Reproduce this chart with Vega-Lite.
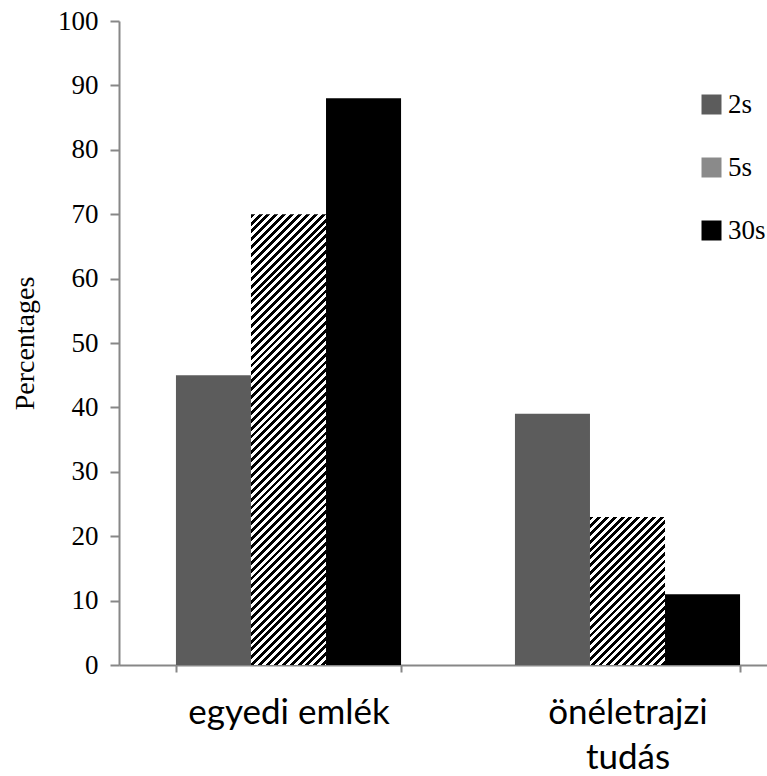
{
"$schema": "https://vega.github.io/schema/vega-lite/v6.json",
"width": 648,
"height": 644,
"autosize": {"type": "none"},
"padding": {"left": 119, "top": 21, "right": 0, "bottom": 111},
"background": "white",
"config": {"view": {"stroke": null}, "legend": {"labelFont": "Liberation Serif", "labelFontSize": 27, "labelColor": "#000"}},
"data": {"values": [
{"cat": "egyedi emlék", "series": "2s", "value": 45},
{"cat": "egyedi emlék", "series": "5s", "value": 70},
{"cat": "egyedi emlék", "series": "30s", "value": 88},
{"cat": "önéletrajzi tudás", "series": "2s", "value": 39},
{"cat": "önéletrajzi tudás", "series": "5s", "value": 23},
{"cat": "önéletrajzi tudás", "series": "30s", "value": 11}
]},
"mark": {"type": "bar", "strokeWidth": 0},
"encoding": {
"x": {"field": "cat", "type": "nominal", "sort": ["egyedi emlék", "önéletrajzi tudás"],
 "scale": {"range": [0, 678], "paddingInner": 0.336, "paddingOuter": 0.168},
 "axis": {"title": null, "labelAngle": 0, "tickBand": "extent", "domainColor": "#878787", "domainWidth": 2, "tickColor": "#878787", "tickWidth": 2, "tickSize": 7, "labelFont": "Lato", "labelFontSize": 35, "labelColor": "#000", "labelPadding": 51, "labelBaseline": "alphabetic", "labelLineHeight": 45, "labelLimit": 0, "labelOverlap": false, "labelExpr": "datum.label == 'önéletrajzi tudás' ? ['önéletrajzi', 'tudás'] : datum.label"}},
"xOffset": {"field": "series", "type": "nominal", "sort": ["2s", "5s", "30s"], "scale": {"paddingInner": 0, "paddingOuter": 0}},
"y": {"field": "value", "type": "quantitative", "scale": {"domain": [0, 100], "nice": false},
 "axis": {"title": "Percentages", "values": [0, 10, 20, 30, 40, 50, 60, 70, 80, 90, 100], "grid": false, "domainColor": "#878787", "domainWidth": 2, "tickColor": "#878787", "tickWidth": 2, "tickSize": 9, "labelFont": "Liberation Serif", "labelFontSize": 27, "labelColor": "#000", "labelPadding": 12, "labelFlush": false, "labelBound": false, "titleFont": "Liberation Serif", "titleFontSize": 28, "titleFontWeight": "normal", "titleColor": "#000", "titlePadding": 18}},
"fill": {"field": "series", "type": "nominal",
 "scale": {"domain": ["2s", "5s", "30s"], "range": ["#5c5c5c", "#8a8a8a", "#000000"]},
 "legend": {"title": null, "orient": "none", "legendX": 579, "legendY": 70, "symbolType": "square", "symbolSize": 400, "symbolStrokeWidth": 0, "labelFont": "Liberation Serif", "labelFontSize": 27, "labelColor": "#000", "labelOffset": 3, "rowPadding": 35, "padding": 0},
 "condition": [
 {"test": "datum.series === '5s' && datum.cat === 'egyedi emlék'", "value": {"gradient": "linear", "x1": 0, "y1": 0, "x2": 0.1889, "y2": 1.135, "stops": [
{"offset":0,"color":"#000"},
{"offset":0.0075,"color":"#000"},{"offset":0.0075,"color":"#fff"},{"offset":0.015,"color":"#fff"},{"offset":0.015,"color":"#000"},
{"offset":0.0225,"color":"#000"},{"offset":0.0225,"color":"#fff"},{"offset":0.03,"color":"#fff"},{"offset":0.03,"color":"#000"},
{"offset":0.0375,"color":"#000"},{"offset":0.0375,"color":"#fff"},{"offset":0.045,"color":"#fff"},{"offset":0.045,"color":"#000"},
{"offset":0.0525,"color":"#000"},{"offset":0.0525,"color":"#fff"},{"offset":0.06,"color":"#fff"},{"offset":0.06,"color":"#000"},
{"offset":0.0675,"color":"#000"},{"offset":0.0675,"color":"#fff"},{"offset":0.075,"color":"#fff"},{"offset":0.075,"color":"#000"},
{"offset":0.0825,"color":"#000"},{"offset":0.0825,"color":"#fff"},{"offset":0.09,"color":"#fff"},{"offset":0.09,"color":"#000"},
{"offset":0.0975,"color":"#000"},{"offset":0.0975,"color":"#fff"},{"offset":0.105,"color":"#fff"},{"offset":0.105,"color":"#000"},
{"offset":0.1125,"color":"#000"},{"offset":0.1125,"color":"#fff"},{"offset":0.12,"color":"#fff"},{"offset":0.12,"color":"#000"},
{"offset":0.1275,"color":"#000"},{"offset":0.1275,"color":"#fff"},{"offset":0.135,"color":"#fff"},{"offset":0.135,"color":"#000"},
{"offset":0.1425,"color":"#000"},{"offset":0.1425,"color":"#fff"},{"offset":0.15,"color":"#fff"},{"offset":0.15,"color":"#000"},
{"offset":0.1575,"color":"#000"},{"offset":0.1575,"color":"#fff"},{"offset":0.165,"color":"#fff"},{"offset":0.165,"color":"#000"},
{"offset":0.1725,"color":"#000"},{"offset":0.1725,"color":"#fff"},{"offset":0.18,"color":"#fff"},{"offset":0.18,"color":"#000"},
{"offset":0.1875,"color":"#000"},{"offset":0.1875,"color":"#fff"},{"offset":0.195,"color":"#fff"},{"offset":0.195,"color":"#000"},
{"offset":0.2025,"color":"#000"},{"offset":0.2025,"color":"#fff"},{"offset":0.21,"color":"#fff"},{"offset":0.21,"color":"#000"},
{"offset":0.2175,"color":"#000"},{"offset":0.2175,"color":"#fff"},{"offset":0.225,"color":"#fff"},{"offset":0.225,"color":"#000"},
{"offset":0.2325,"color":"#000"},{"offset":0.2325,"color":"#fff"},{"offset":0.24,"color":"#fff"},{"offset":0.24,"color":"#000"},
{"offset":0.2475,"color":"#000"},{"offset":0.2475,"color":"#fff"},{"offset":0.255,"color":"#fff"},{"offset":0.255,"color":"#000"},
{"offset":0.2625,"color":"#000"},{"offset":0.2625,"color":"#fff"},{"offset":0.27,"color":"#fff"},{"offset":0.27,"color":"#000"},
{"offset":0.2775,"color":"#000"},{"offset":0.2775,"color":"#fff"},{"offset":0.285,"color":"#fff"},{"offset":0.285,"color":"#000"},
{"offset":0.2925,"color":"#000"},{"offset":0.2925,"color":"#fff"},{"offset":0.3,"color":"#fff"},{"offset":0.3,"color":"#000"},
{"offset":0.3075,"color":"#000"},{"offset":0.3075,"color":"#fff"},{"offset":0.315,"color":"#fff"},{"offset":0.315,"color":"#000"},
{"offset":0.3225,"color":"#000"},{"offset":0.3225,"color":"#fff"},{"offset":0.33,"color":"#fff"},{"offset":0.33,"color":"#000"},
{"offset":0.3375,"color":"#000"},{"offset":0.3375,"color":"#fff"},{"offset":0.345,"color":"#fff"},{"offset":0.345,"color":"#000"},
{"offset":0.3525,"color":"#000"},{"offset":0.3525,"color":"#fff"},{"offset":0.36,"color":"#fff"},{"offset":0.36,"color":"#000"},
{"offset":0.3675,"color":"#000"},{"offset":0.3675,"color":"#fff"},{"offset":0.375,"color":"#fff"},{"offset":0.375,"color":"#000"},
{"offset":0.3825,"color":"#000"},{"offset":0.3825,"color":"#fff"},{"offset":0.39,"color":"#fff"},{"offset":0.39,"color":"#000"},
{"offset":0.3975,"color":"#000"},{"offset":0.3975,"color":"#fff"},{"offset":0.405,"color":"#fff"},{"offset":0.405,"color":"#000"},
{"offset":0.4125,"color":"#000"},{"offset":0.4125,"color":"#fff"},{"offset":0.42,"color":"#fff"},{"offset":0.42,"color":"#000"},
{"offset":0.4275,"color":"#000"},{"offset":0.4275,"color":"#fff"},{"offset":0.435,"color":"#fff"},{"offset":0.435,"color":"#000"},
{"offset":0.4425,"color":"#000"},{"offset":0.4425,"color":"#fff"},{"offset":0.45,"color":"#fff"},{"offset":0.45,"color":"#000"},
{"offset":0.4575,"color":"#000"},{"offset":0.4575,"color":"#fff"},{"offset":0.465,"color":"#fff"},{"offset":0.465,"color":"#000"},
{"offset":0.4725,"color":"#000"},{"offset":0.4725,"color":"#fff"},{"offset":0.48,"color":"#fff"},{"offset":0.48,"color":"#000"},
{"offset":0.4875,"color":"#000"},{"offset":0.4875,"color":"#fff"},{"offset":0.495,"color":"#fff"},{"offset":0.495,"color":"#000"},
{"offset":0.5025,"color":"#000"},{"offset":0.5025,"color":"#fff"},{"offset":0.51,"color":"#fff"},{"offset":0.51,"color":"#000"},
{"offset":0.5175,"color":"#000"},{"offset":0.5175,"color":"#fff"},{"offset":0.525,"color":"#fff"},{"offset":0.525,"color":"#000"},
{"offset":0.5325,"color":"#000"},{"offset":0.5325,"color":"#fff"},{"offset":0.54,"color":"#fff"},{"offset":0.54,"color":"#000"},
{"offset":0.5475,"color":"#000"},{"offset":0.5475,"color":"#fff"},{"offset":0.555,"color":"#fff"},{"offset":0.555,"color":"#000"},
{"offset":0.5625,"color":"#000"},{"offset":0.5625,"color":"#fff"},{"offset":0.57,"color":"#fff"},{"offset":0.57,"color":"#000"},
{"offset":0.5775,"color":"#000"},{"offset":0.5775,"color":"#fff"},{"offset":0.585,"color":"#fff"},{"offset":0.585,"color":"#000"},
{"offset":0.5925,"color":"#000"},{"offset":0.5925,"color":"#fff"},{"offset":0.6,"color":"#fff"},{"offset":0.6,"color":"#000"},
{"offset":0.6075,"color":"#000"},{"offset":0.6075,"color":"#fff"},{"offset":0.615,"color":"#fff"},{"offset":0.615,"color":"#000"},
{"offset":0.6225,"color":"#000"},{"offset":0.6225,"color":"#fff"},{"offset":0.63,"color":"#fff"},{"offset":0.63,"color":"#000"},
{"offset":0.6375,"color":"#000"},{"offset":0.6375,"color":"#fff"},{"offset":0.645,"color":"#fff"},{"offset":0.645,"color":"#000"},
{"offset":0.6525,"color":"#000"},{"offset":0.6525,"color":"#fff"},{"offset":0.66,"color":"#fff"},{"offset":0.66,"color":"#000"},
{"offset":0.6675,"color":"#000"},{"offset":0.6675,"color":"#fff"},{"offset":0.675,"color":"#fff"},{"offset":0.675,"color":"#000"},
{"offset":0.6825,"color":"#000"},{"offset":0.6825,"color":"#fff"},{"offset":0.69,"color":"#fff"},{"offset":0.69,"color":"#000"},
{"offset":0.6975,"color":"#000"},{"offset":0.6975,"color":"#fff"},{"offset":0.705,"color":"#fff"},{"offset":0.705,"color":"#000"},
{"offset":0.7125,"color":"#000"},{"offset":0.7125,"color":"#fff"},{"offset":0.72,"color":"#fff"},{"offset":0.72,"color":"#000"},
{"offset":0.7275,"color":"#000"},{"offset":0.7275,"color":"#fff"},{"offset":0.735,"color":"#fff"},{"offset":0.735,"color":"#000"},
{"offset":0.7425,"color":"#000"},{"offset":0.7425,"color":"#fff"},{"offset":0.75,"color":"#fff"},{"offset":0.75,"color":"#000"},
{"offset":0.7575,"color":"#000"},{"offset":0.7575,"color":"#fff"},{"offset":0.765,"color":"#fff"},{"offset":0.765,"color":"#000"},
{"offset":0.7725,"color":"#000"},{"offset":0.7725,"color":"#fff"},{"offset":0.78,"color":"#fff"},{"offset":0.78,"color":"#000"},
{"offset":0.7875,"color":"#000"},{"offset":0.7875,"color":"#fff"},{"offset":0.795,"color":"#fff"},{"offset":0.795,"color":"#000"},
{"offset":0.8025,"color":"#000"},{"offset":0.8025,"color":"#fff"},{"offset":0.81,"color":"#fff"},{"offset":0.81,"color":"#000"},
{"offset":0.8175,"color":"#000"},{"offset":0.8175,"color":"#fff"},{"offset":0.825,"color":"#fff"},{"offset":0.825,"color":"#000"},
{"offset":0.8325,"color":"#000"},{"offset":0.8325,"color":"#fff"},{"offset":0.84,"color":"#fff"},{"offset":0.84,"color":"#000"},
{"offset":0.8475,"color":"#000"},{"offset":0.8475,"color":"#fff"},{"offset":0.855,"color":"#fff"},{"offset":0.855,"color":"#000"},
{"offset":0.8625,"color":"#000"},{"offset":0.8625,"color":"#fff"},{"offset":0.87,"color":"#fff"},{"offset":0.87,"color":"#000"},
{"offset":0.8775,"color":"#000"},{"offset":0.8775,"color":"#fff"},{"offset":0.885,"color":"#fff"},{"offset":0.885,"color":"#000"},
{"offset":0.8925,"color":"#000"},{"offset":0.8925,"color":"#fff"},{"offset":0.9,"color":"#fff"},{"offset":0.9,"color":"#000"},
{"offset":0.9075,"color":"#000"},{"offset":0.9075,"color":"#fff"},{"offset":0.915,"color":"#fff"},{"offset":0.915,"color":"#000"},
{"offset":0.9225,"color":"#000"},{"offset":0.9225,"color":"#fff"},{"offset":0.93,"color":"#fff"},{"offset":0.93,"color":"#000"},
{"offset":0.9375,"color":"#000"},{"offset":0.9375,"color":"#fff"},{"offset":0.945,"color":"#fff"},{"offset":0.945,"color":"#000"},
{"offset":0.9525,"color":"#000"},{"offset":0.9525,"color":"#fff"},{"offset":0.96,"color":"#fff"},{"offset":0.96,"color":"#000"},
{"offset":0.9675,"color":"#000"},{"offset":0.9675,"color":"#fff"},{"offset":0.975,"color":"#fff"},{"offset":0.975,"color":"#000"},
{"offset":0.9825,"color":"#000"},{"offset":0.9825,"color":"#fff"},{"offset":0.99,"color":"#fff"},{"offset":0.99,"color":"#000"},
{"offset":0.9975,"color":"#000"},{"offset":0.9975,"color":"#fff"},
{"offset":1,"color":"#fff"}
 ]}},
 {"test": "datum.series === '5s' && datum.cat === 'önéletrajzi tudás'", "value": {"gradient": "linear", "x1": 0, "y1": 0, "x2": 0.6073, "y2": 1.1989, "stops": [
{"offset":0,"color":"#000"},
{"offset":0.0175,"color":"#000"},{"offset":0.0175,"color":"#fff"},{"offset":0.035,"color":"#fff"},{"offset":0.035,"color":"#000"},
{"offset":0.0525,"color":"#000"},{"offset":0.0525,"color":"#fff"},{"offset":0.07,"color":"#fff"},{"offset":0.07,"color":"#000"},
{"offset":0.0875,"color":"#000"},{"offset":0.0875,"color":"#fff"},{"offset":0.105,"color":"#fff"},{"offset":0.105,"color":"#000"},
{"offset":0.1225,"color":"#000"},{"offset":0.1225,"color":"#fff"},{"offset":0.14,"color":"#fff"},{"offset":0.14,"color":"#000"},
{"offset":0.1575,"color":"#000"},{"offset":0.1575,"color":"#fff"},{"offset":0.175,"color":"#fff"},{"offset":0.175,"color":"#000"},
{"offset":0.1925,"color":"#000"},{"offset":0.1925,"color":"#fff"},{"offset":0.21,"color":"#fff"},{"offset":0.21,"color":"#000"},
{"offset":0.2275,"color":"#000"},{"offset":0.2275,"color":"#fff"},{"offset":0.245,"color":"#fff"},{"offset":0.245,"color":"#000"},
{"offset":0.2625,"color":"#000"},{"offset":0.2625,"color":"#fff"},{"offset":0.28,"color":"#fff"},{"offset":0.28,"color":"#000"},
{"offset":0.2975,"color":"#000"},{"offset":0.2975,"color":"#fff"},{"offset":0.315,"color":"#fff"},{"offset":0.315,"color":"#000"},
{"offset":0.3325,"color":"#000"},{"offset":0.3325,"color":"#fff"},{"offset":0.35,"color":"#fff"},{"offset":0.35,"color":"#000"},
{"offset":0.3675,"color":"#000"},{"offset":0.3675,"color":"#fff"},{"offset":0.385,"color":"#fff"},{"offset":0.385,"color":"#000"},
{"offset":0.4025,"color":"#000"},{"offset":0.4025,"color":"#fff"},{"offset":0.42,"color":"#fff"},{"offset":0.42,"color":"#000"},
{"offset":0.4375,"color":"#000"},{"offset":0.4375,"color":"#fff"},{"offset":0.455,"color":"#fff"},{"offset":0.455,"color":"#000"},
{"offset":0.4725,"color":"#000"},{"offset":0.4725,"color":"#fff"},{"offset":0.49,"color":"#fff"},{"offset":0.49,"color":"#000"},
{"offset":0.5075,"color":"#000"},{"offset":0.5075,"color":"#fff"},{"offset":0.525,"color":"#fff"},{"offset":0.525,"color":"#000"},
{"offset":0.5425,"color":"#000"},{"offset":0.5425,"color":"#fff"},{"offset":0.56,"color":"#fff"},{"offset":0.56,"color":"#000"},
{"offset":0.5775,"color":"#000"},{"offset":0.5775,"color":"#fff"},{"offset":0.595,"color":"#fff"},{"offset":0.595,"color":"#000"},
{"offset":0.6125,"color":"#000"},{"offset":0.6125,"color":"#fff"},{"offset":0.63,"color":"#fff"},{"offset":0.63,"color":"#000"},
{"offset":0.6475,"color":"#000"},{"offset":0.6475,"color":"#fff"},{"offset":0.665,"color":"#fff"},{"offset":0.665,"color":"#000"},
{"offset":0.6825,"color":"#000"},{"offset":0.6825,"color":"#fff"},{"offset":0.7,"color":"#fff"},{"offset":0.7,"color":"#000"},
{"offset":0.7175,"color":"#000"},{"offset":0.7175,"color":"#fff"},{"offset":0.735,"color":"#fff"},{"offset":0.735,"color":"#000"},
{"offset":0.7525,"color":"#000"},{"offset":0.7525,"color":"#fff"},{"offset":0.77,"color":"#fff"},{"offset":0.77,"color":"#000"},
{"offset":0.7875,"color":"#000"},{"offset":0.7875,"color":"#fff"},{"offset":0.805,"color":"#fff"},{"offset":0.805,"color":"#000"},
{"offset":0.8225,"color":"#000"},{"offset":0.8225,"color":"#fff"},{"offset":0.84,"color":"#fff"},{"offset":0.84,"color":"#000"},
{"offset":0.8575,"color":"#000"},{"offset":0.8575,"color":"#fff"},{"offset":0.875,"color":"#fff"},{"offset":0.875,"color":"#000"},
{"offset":0.8925,"color":"#000"},{"offset":0.8925,"color":"#fff"},{"offset":0.91,"color":"#fff"},{"offset":0.91,"color":"#000"},
{"offset":0.9275,"color":"#000"},{"offset":0.9275,"color":"#fff"},{"offset":0.945,"color":"#fff"},{"offset":0.945,"color":"#000"},
{"offset":0.9625,"color":"#000"},{"offset":0.9625,"color":"#fff"},{"offset":0.98,"color":"#fff"},{"offset":0.98,"color":"#000"},
{"offset":0.9975,"color":"#000"},{"offset":0.9975,"color":"#fff"},
{"offset":1,"color":"#fff"}
 ]}}
 ]}
}
}
